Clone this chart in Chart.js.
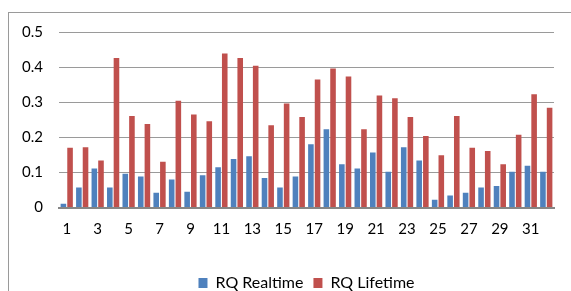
<!DOCTYPE html>
<html>
<head>
<meta charset="utf-8">
<script src="https://cdn.jsdelivr.net/npm/chart.js@4/dist/chart.umd.min.js"></script>
<style>
  html, body { margin: 0; padding: 0; background: #fff; }
  #wrap { position: relative; width: 571px; height: 291px; overflow: hidden; }
  #frame { position: absolute; left: 8px; top: 12px; width: 600px; height: 300px;
           border-left: 1px solid #9a9a9a; border-top: 1px solid #9a9a9a; }
  canvas { position: absolute; left: 0; top: 0; }
</style>
</head>
<body>
<div id="wrap">
  <div id="frame"></div>
  <canvas id="rqChart" width="571" height="291"></canvas>
</div>
<script>
// Categories (1..32) and series values
const categories = ['1','2','3','4','5','6','7','8','9','10','11','12','13','14','15','16',
                    '17','18','19','20','21','22','23','24','25','26','27','28','29','30','31','32'];

const rqRealtime = [0.011, 0.057, 0.111, 0.057, 0.096, 0.088, 0.042, 0.080, 0.045, 0.092,
                    0.115, 0.138, 0.146, 0.084, 0.057, 0.088, 0.180, 0.223, 0.123, 0.111,
                    0.157, 0.102, 0.172, 0.134, 0.022, 0.034, 0.042, 0.057, 0.061, 0.102,
                    0.119, 0.102];

const rqLifetime = [0.170, 0.172, 0.134, 0.426, 0.261, 0.238, 0.130, 0.304, 0.265, 0.246,
                    0.439, 0.426, 0.404, 0.234, 0.296, 0.258, 0.365, 0.396, 0.373, 0.223,
                    0.319, 0.311, 0.258, 0.204, 0.149, 0.261, 0.170, 0.161, 0.123, 0.207,
                    0.323, 0.284];

const yTicks = [0, 0.1, 0.2, 0.3, 0.4, 0.5];

const font = 'Lato, "Open Sans", sans-serif';

new Chart(document.getElementById('rqChart'), {
  type: 'bar',
  data: {
    labels: categories,
    datasets: [
      {
        label: 'RQ Realtime',
        data: rqRealtime,
        backgroundColor: '#4F81BD',
        barPercentage: 0.84,
        categoryPercentage: 0.86
      },
      {
        label: 'RQ Lifetime',
        data: rqLifetime,
        backgroundColor: '#C0504D',
        barPercentage: 0.84,
        categoryPercentage: 0.86
      }
    ]
  },
  options: {
    responsive: false,
    animation: false,
    devicePixelRatio: 1,
    layout: { padding: { top: 32, right: 17, left: 0, bottom: -10 } },
    scales: {
      x: {
        grid: { display: false },
        border: { color: '#868686', width: 2 },
        ticks: {
          autoSkip: false,
          maxRotation: 0,
          padding: 5,
          color: '#000',
          font: { family: font, size: 15 },
          callback: (v, i) => (i % 2 === 0 ? categories[i] : '')
        },
        afterFit: s => { s.height = 57.5; }
      },
      y: {
        min: 0,
        max: 0.5,
        afterBuildTicks: s => { s.ticks = yTicks.map(v => ({ value: v })); },
        grid: { color: '#9a9a9a', drawTicks: false },
        border: { display: false },
        ticks: {
          padding: 16,
          color: '#000',
          font: { family: font, size: 15 },
          callback: v => String(v)
        },
        afterFit: s => { s.width = 59; }
      }
    },
    plugins: {
      legend: {
        position: 'bottom',
        fullSize: false,
        labels: {
          boxWidth: 9,
          boxHeight: 10,
          padding: 10,
          color: '#000',
          font: { family: font, size: 16 }
        }
      },
      tooltip: { enabled: false }
    }
  }
});
</script>
</body>
</html>
